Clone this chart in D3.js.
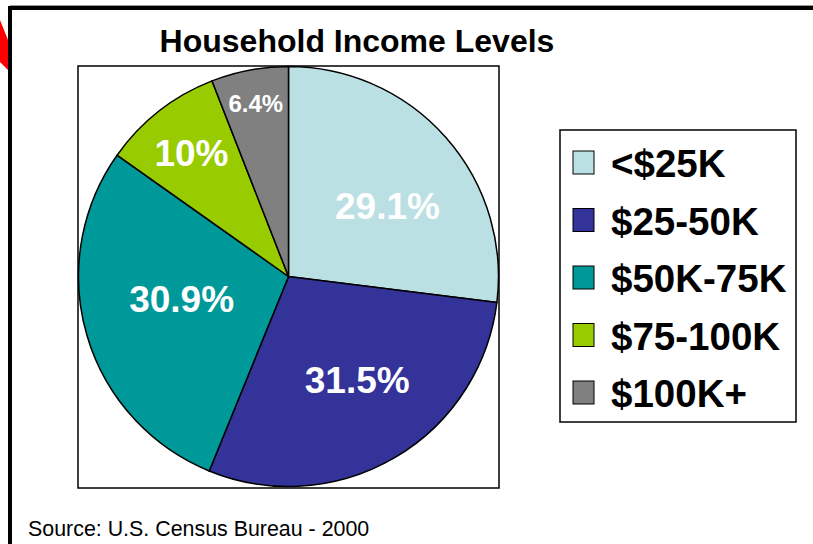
<!DOCTYPE html>
<head>
  <meta charset="utf-8">
  <title>Household Income Levels</title>
  <script src="https://d3js.org/d3.v7.min.js"></script>
  <style>
    body { margin: 0; background: #fff; }
    text { font-family: Arial, "Liberation Sans", sans-serif; }
  </style>
</head>
<body>
  <div id="chart"></div>
  <script>
    // data
    var categories = ['<$25K', '$25-50K', '$50K-75K', '$75-100K', '$100K+'];
    var shares = [29.1, 31.5, 30.9, 10, 6.4];
    var valueLabels = ['29.1%', '31.5%', '30.9%', '10%', '6.4%'];
    var colors = ['#BBE0E3', '#333399', '#009999', '#99CC00', '#808080'];

    // placement of the labels inside the slices (fraction of radius, angle nudge in degrees, font size)
    var labelRadius = [0.58, 0.59, 0.52, 0.75, 0.84];
    var labelNudge = [5.8, -3.3, 4.5, 0, 0];
    var labelSize = [37, 37, 37, 37, 24];

    var width = 813, height = 544;
    var cx = 288.5, cy = 276.5, r = 210;

    var svg = d3.select('#chart').append('svg')
      .attr('width', width)
      .attr('height', height);

    // slide frame
    svg.append('line')
      .attr('x1', 10).attr('x2', width).attr('y1', 5.5).attr('y2', 5.5)
      .attr('stroke', '#999').attr('stroke-width', 1);
    svg.append('rect')
      .attr('x', 10).attr('y', 8)
      .attr('width', 900).attr('height', 600)
      .attr('fill', 'none').attr('stroke', '#000').attr('stroke-width', 4);
    svg.append('polygon')
      .attr('points', '0,20 8,40 8,70 0,62')
      .attr('fill', '#ff0000');

    // title
    svg.append('text')
      .attr('x', 357).attr('y', 52)
      .attr('text-anchor', 'middle')
      .attr('font-size', 32).attr('font-weight', 'bold')
      .text('Household Income Levels');

    // plot area box
    svg.append('rect')
      .attr('x', 78).attr('y', 66)
      .attr('width', 421).attr('height', 422)
      .attr('fill', 'none').attr('stroke', '#000').attr('stroke-width', 1.5);

    var pie = d3.pie().sort(null);
    var arcs = pie(shares);
    var arc = d3.arc().innerRadius(0).outerRadius(r);

    var g = svg.append('g').attr('transform', 'translate(' + cx + ',' + cy + ')');

    g.selectAll('path')
      .data(arcs)
      .enter()
      .append('path')
        .attr('d', arc)
        .attr('fill', function(d, i) { return colors[i]; })
        .attr('stroke', '#000')
        .attr('stroke-width', 1.5);

    g.selectAll('text')
      .data(arcs)
      .enter()
      .append('text')
        .attr('transform', function(d, i) {
          var a = (d.startAngle + d.endAngle) / 2 + labelNudge[i] * Math.PI / 180;
          var dist = r * labelRadius[i];
          return 'translate(' + (dist * Math.sin(a)) + ',' + (-dist * Math.cos(a)) + ')';
        })
        .attr('dy', '0.36em')
        .attr('text-anchor', 'middle')
        .attr('fill', '#fff')
        .attr('font-weight', 'bold')
        .attr('font-size', function(d, i) { return labelSize[i]; })
        .text(function(d, i) { return valueLabels[i]; });

    // legend
    svg.append('rect')
      .attr('x', 560).attr('y', 130)
      .attr('width', 236).attr('height', 292)
      .attr('fill', '#fff').attr('stroke', '#000').attr('stroke-width', 1.5);

    var yLegend = d3.scalePoint()
      .domain(categories)
      .range([177, 407]);

    var item = svg.selectAll('.legend-item')
      .data(categories)
      .enter()
      .append('g')
        .attr('class', 'legend-item')
        .attr('transform', function(d) { return 'translate(0,' + yLegend(d) + ')'; });

    item.append('rect')
      .attr('x', 573).attr('y', -26)
      .attr('width', 21).attr('height', 23)
      .attr('fill', function(d, i) { return colors[i]; })
      .attr('stroke', '#000').attr('stroke-width', 1);

    item.append('text')
      .attr('x', 611).attr('y', 0)
      .attr('font-size', 38.5).attr('font-weight', 'bold')
      .text(function(d) { return d; });

    // source note
    svg.append('text')
      .attr('x', 28).attr('y', 536)
      .attr('font-size', 21.4)
      .text('Source: U.S. Census Bureau - 2000');
  </script>
</body>
